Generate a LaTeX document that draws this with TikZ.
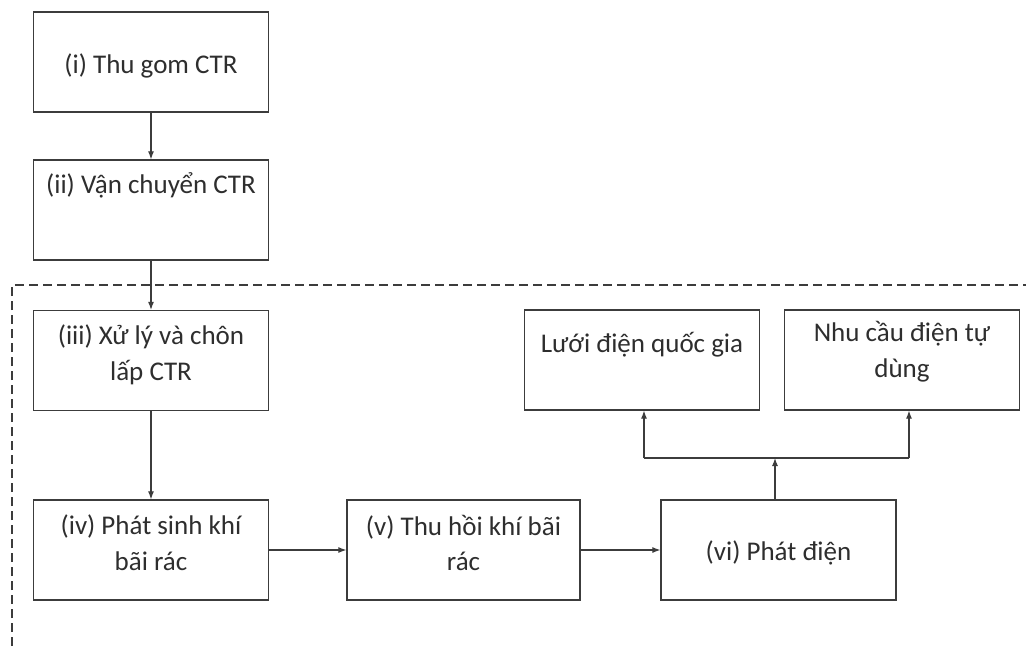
\documentclass[tikz,border=0pt]{standalone}
\usepackage{fontspec}
\setmainfont{Carlito}
\usetikzlibrary{arrows.meta}
\definecolor{linec}{HTML}{3C3C3C}
\definecolor{txtc}{HTML}{2E2E2E}
\tikzset{
  box/.style={draw=linec, line width=1.3pt, minimum width=235pt, minimum height=100pt, inner sep=0pt},
  txt/.style={text=txtc, font=\fontsize{27}{36}\selectfont, anchor=base, inner sep=0pt},
  arr/.style={draw=linec, line width=1.1pt, -{Latex[length=8pt,width=6pt]}},
  conn/.style={draw=linec, line width=1.1pt},
  frame/.style={draw=linec, line width=1.1pt, dash pattern=on 9pt off 5pt}
}
\begin{document}
\begin{tikzpicture}[x=1pt,y=-1pt]
\useasboundingbox (0,0) rectangle (1026,646);
\fill[white] (0,0) rectangle (1026,646);
% dashed frame
\coordinate (fbl) at (12,646);
\coordinate (ftl) at (12,285);
\coordinate (ftr) at (1026,285);
\draw[frame] (fbl) -- (ftl) -- (ftr);
% boxes
\node[box] (b1) at (151,62) {};
\node[box] (b2) at (151,210) {};
\node[box] (b3) at (151,360.5) {};
\node[box] (b4) at (151,550) {};
\node[box, minimum width=233pt] (b5) at (463.5,550) {};
\node[box] (b6) at (778.5,550) {};
\node[box] (bl) at (642,360) {};
\node[box] (bn) at (902,360) {};
% texts
\node[txt] (t1) at (151,73) {(i) Thu gom CTR};
\node[txt] (t2) at (151,193) {(ii) Vận chuyển CTR};
\node[txt] (t3a) at (151,344) {(iii) Xử lý và chôn};
\node[txt] (t3b) at (151,380) {lấp CTR};
\node[txt] (t4a) at (151,534) {(iv) Phát sinh khí};
\node[txt] (t4b) at (151,570) {bãi rác};
\node[txt] (t5a) at (463.5,535) {(v) Thu hồi khí bãi};
\node[txt] (t5b) at (463.5,570) {rác};
\node[txt] (t6) at (778.5,560) {(vi) Phát điện};
\node[txt] (tl) at (642,352) {Lưới điện quốc gia};
\node[txt] (tna) at (902,341) {Nhu cầu điện tự};
\node[txt] (tnb) at (902,377) {dùng};
% connectors
\draw[arr] (b1) -- (b2);
\draw[arr] (b2) -- (b3);
\draw[arr] (b3) -- (b4);
\draw[arr] (b4) -- (b5);
\draw[arr] (b5) -- (b6);
\coordinate (jm) at (775,458);
\coordinate (jl) at (644,458);
\coordinate (jr) at (909,458);
\draw[arr] (b6.north -| jm) -- (jm);
\draw[conn] (jl) -- (jr);
\draw[arr] (jl) -- (jl |- bl.south);
\draw[arr] (jr) -- (jr |- bn.south);
\end{tikzpicture}
\end{document}
